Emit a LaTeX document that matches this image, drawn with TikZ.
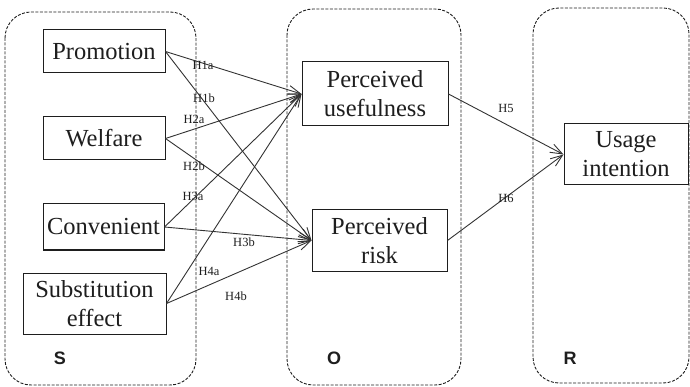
\documentclass[tikz,border=0pt]{standalone}
\usepackage{fontspec}
\setmainfont{Liberation Serif}
\newfontfamily\labsans{Liberation Sans}
\usetikzlibrary{arrows.meta}
\definecolor{ink}{HTML}{1E1E1E}
\definecolor{edge}{HTML}{333333}
\tikzset{
  box/.style={draw=ink, line width=1pt, align=center, inner sep=0pt, text=ink,
    font=\fontsize{24.5}{29}\selectfont},
  group/.style={draw=ink, dashed, dash pattern=on 3pt off 1.5pt, line width=0.9pt, rounded corners=26pt},
  link/.style={draw=edge, line width=0.9pt, -{Straight Barb[length=12pt,width=9pt,line width=0.9pt]}},
  lab/.style={text=ink, inner sep=0pt, font=\fontsize{12.5}{12.5}\selectfont},
  grp/.style={text=ink, inner sep=0pt, font=\labsans\bfseries\fontsize{18}{18}\selectfont}
}
\begin{document}
\begin{tikzpicture}[x=1pt,y=-1pt]
\useasboundingbox (0,0) rectangle (690,387);
% containers
\draw[group] (5,12) rectangle (196,385);
\draw[group] (287,9) rectangle (461,385);
\draw[group] (533,8) rectangle (689,383);
% nodes
\node[box, minimum width=122pt, minimum height=43pt] (prom) at (104,51.5) {Promotion};
\node[box, minimum width=122pt, minimum height=43pt] (welf) at (104,138.5) {Welfare};
\node[box, minimum width=121pt, minimum height=46pt] (conv) at (103.5,227) {Convenient};
\node[box, minimum width=143pt, minimum height=61pt] (subs) at (94.5,303.5) {Substitution\\effect};
\node[box, minimum width=146pt, minimum height=64pt] (pu) at (375,94) {Perceived\\usefulness};
\node[box, minimum width=135pt, minimum height=61pt] (pr) at (379.5,240.5) {Perceived\\risk};
\node[box, minimum width=124pt, minimum height=61pt] (ui) at (626,154.5) {Usage\\intention};
% connectors
\draw[link] (prom.east) -- (pu.west);
\draw[link] (prom.east) -- (pr.west);
\draw[link] (welf.east) -- (pu.west);
\draw[link] (welf.east) -- (pr.west);
\draw[link] (conv.east) -- (pu.west);
\draw[link] (conv.east) -- (pr.west);
\draw[link] (subs.east) -- (pu.west);
\draw[link] (subs.east) -- (pr.west);
\draw[link] (pu.east) -- (ui.west);
\draw[link] (pr.east) -- (ui.west);
% labels
\node[lab] (l1a) at (203,65) {H1a};
\node[lab] (l1b) at (204,98) {H1b};
\node[lab] (l2a) at (194,119) {H2a};
\node[lab] (l2b) at (194,166) {H2b};
\node[lab] (l3a) at (193,196) {H3a};
\node[lab] (l3b) at (244,242) {H3b};
\node[lab] (l4a) at (209,271) {H4a};
\node[lab] (l4b) at (236,296) {H4b};
\node[lab] (l5) at (506,108) {H5};
\node[lab] (l6) at (506,198) {H6};
\node[grp] (gs) at (60,358) {S};
\node[grp] (go) at (334,358) {O};
\node[grp] (gr) at (570,358) {R};
\end{tikzpicture}
\end{document}
